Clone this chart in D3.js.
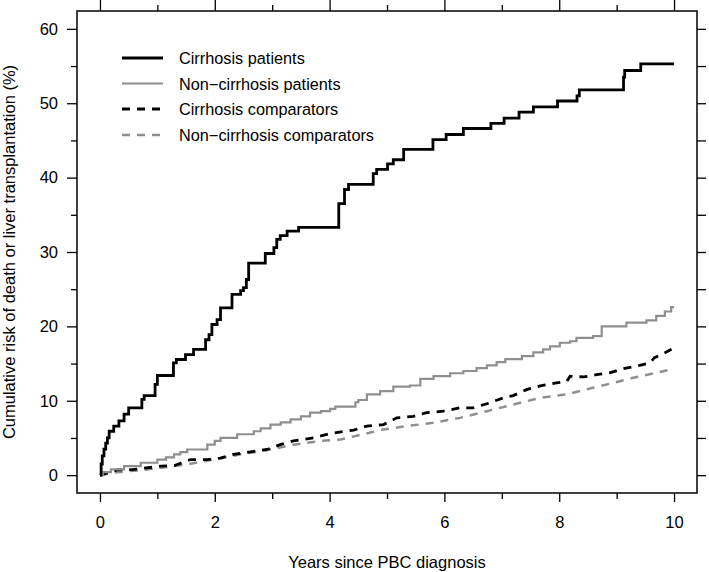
<!DOCTYPE html>
<html>
<head>
<meta charset="utf-8">
<script src="https://cdn.jsdelivr.net/npm/d3@7"></script>
<style>
    body { margin: 0; background: #fff; }
    #chart { width: 709px; height: 572px; }
    text { font-family: "Liberation Sans", Arial, Helvetica, sans-serif; }
    .axis path { display: none; }
    .axis line { stroke: #000; stroke-width: 1.3px; }
    .axis text { font-size: 16.5px; fill: #000; }
</style>
</head>
<body>
<div id="chart"></div>
<script>
// cumulative risk (%), [years, value]
const cirrhosisPatients = [[0,0],[0.02,1.5],[0.04,2.6],[0.07,3.5],[0.1,4.3],[0.13,5.0],[0.16,5.9],[0.24,6.6],
    [0.33,7.3],[0.42,8.2],[0.5,9.05],[0.73,10.2],[0.77,10.7],[0.96,12.2],[1.0,13.4],[1.28,15.1],[1.33,15.55],
    [1.49,16.2],[1.63,16.9],[1.84,18.2],[1.9,18.9],[1.95,20.25],[2.04,20.9],[2.1,22.5],[2.3,24.3],[2.45,24.8],
    [2.5,25.2],[2.55,26.3],[2.59,28.5],[2.88,29.8],[3.03,30.6],[3.08,31.7],[3.14,32.2],[3.26,32.8],[3.46,33.3],
    [4.16,36.5],[4.26,38.4],[4.33,39.1],[4.76,40.55],[4.82,41.1],[5.01,41.85],[5.11,42.4],[5.29,43.8],[5.8,45.1],
    [6.03,45.8],[6.33,46.6],[6.81,47.3],[7.04,48.0],[7.3,48.8],[7.55,49.5],[7.97,50.3],[8.31,51.0],[8.35,51.8],
    [9.12,53.5],[9.14,54.4],[9.42,55.3],[10,55.3]];

const nonCirrhosisPatients = [[0,0],[0.05,0.4],[0.19,0.77],[0.42,1.2],[0.71,1.67],[1.0,2.1],[1.15,2.4],[1.29,2.8],
    [1.4,3.1],[1.52,3.45],[1.87,4.1],[2.0,4.6],[2.1,5.0],[2.39,5.5],[2.68,5.9],[2.8,6.3],[2.97,6.8],[3.15,7.1],
    [3.32,7.5],[3.5,7.9],[3.66,8.4],[3.85,8.6],[4.01,8.9],[4.1,9.2],[4.45,9.8],[4.5,10.1],[4.65,10.85],[4.88,11.3],
    [5.11,11.9],[5.4,12.05],[5.58,12.95],[5.81,13.3],[6.1,13.7],[6.33,14.0],[6.56,14.4],[6.74,14.75],[6.91,15.2],
    [7.06,15.6],[7.35,16.0],[7.55,16.5],[7.72,16.9],[7.84,17.3],[8.01,17.8],[8.19,18.0],[8.3,18.45],[8.59,18.7],
    [8.74,20.0],[9.17,20.5],[9.52,20.8],[9.69,21.4],[9.84,22.0],[9.95,22.6],[10,22.6]];

const cirrhosisComparators = [[0,0],[0.3,0.7],[0.59,0.77],[1.06,1.2],[1.3,1.3],[1.58,2.1],[1.87,2.1],[2.1,2.3],
    [2.33,2.8],[2.68,3.2],[2.91,3.45],[3.14,4.1],[3.37,4.6],[3.72,5.0],[4.01,5.6],[4.42,6.05],[4.65,6.6],[4.94,6.8],
    [5.17,7.7],[5.46,7.9],[5.69,8.4],[5.98,8.6],[6.27,9.05],[6.5,9.05],[6.74,9.6],[7.03,10.4],[7.2,10.7],[7.43,11.5],
    [7.67,12.0],[7.95,12.4],[8.13,12.6],[8.19,13.3],[8.42,13.2],[8.65,13.5],[8.88,13.75],[9.11,14.3],[9.4,14.75],
    [9.58,15.1],[9.66,15.8],[9.84,16.45],[10,17.1]];

const nonCirrhosisComparators = [[0,0],[0.3,0.4],[0.71,0.67],[1.06,1.0],[1.52,1.44],[1.98,2.1],[2.45,2.8],[2.91,3.36],
    [3.37,4.1],[3.84,4.6],[4.19,4.8],[4.53,5.4],[4.94,6.15],[5.35,6.6],[5.81,7.04],[6.27,7.7],[6.74,8.6],[7.2,9.5],
    [7.67,10.4],[8.13,10.85],[8.59,11.75],[8.94,12.4],[9.29,13.1],[9.69,13.75],[10,14.3]];

const seriesNames = ["Cirrhosis patients", "Non\u2212cirrhosis patients", "Cirrhosis comparators", "Non\u2212cirrhosis comparators"];
const xTicks = [0, 1, 2, 3, 4, 5, 6, 7, 8, 9, 10];
const yTicks = [0, 5, 10, 15, 20, 25, 30, 35, 40, 45, 50, 55, 60];

const styles = [
    { color: "#000", width: 2.8, dash: null, step: true },
    { color: "#8f8f8f", width: 2.2, dash: null, step: true },
    { color: "#000", width: 2.8, dash: "8,7", step: false },
    { color: "#8f8f8f", width: 2.5, dash: "8,7", step: false }
];

let svg = d3.select("#chart").append("svg")
    .attr("width", 709)
    .attr("height", 572);

let box = { left: 77, right: 697, top: 11, bottom: 493 };

let x = d3.scaleLinear().domain([-0.4, 10.4]).range([box.left, box.right]);
let y = d3.scaleLinear().domain([-2.4, 62.4]).range([box.bottom, box.top]);

// ticks: labelled ones are longer, as in the original lattice plot
let major = xTicks.filter(d => d % 2 === 0), minor = xTicks.filter(d => d % 2 !== 0);
let yMajor = yTicks.filter(d => d % 10 === 0), yMinor = yTicks.filter(d => d % 10 !== 0);

svg.append("g").attr("class", "axis")
    .attr("transform", `translate(0,${box.bottom})`)
    .call(d3.axisBottom(x).tickValues(major).tickSize(9).tickPadding(14).tickFormat(d3.format("d")));
svg.append("g").attr("class", "axis")
    .attr("transform", `translate(0,${box.bottom})`)
    .call(d3.axisBottom(x).tickValues(minor).tickSize(6).tickFormat(""));
svg.append("g").attr("class", "axis")
    .attr("transform", `translate(0,${box.top})`)
    .call(d3.axisTop(x).tickValues(major).tickSize(11).tickFormat(""));
svg.append("g").attr("class", "axis")
    .attr("transform", `translate(0,${box.top})`)
    .call(d3.axisTop(x).tickValues(minor).tickSize(6).tickFormat(""));

svg.append("g").attr("class", "axis")
    .attr("transform", `translate(${box.left},0)`)
    .call(d3.axisLeft(y).tickValues(yMajor).tickSize(10).tickPadding(9).tickFormat(d3.format("d")));
svg.append("g").attr("class", "axis")
    .attr("transform", `translate(${box.left},0)`)
    .call(d3.axisLeft(y).tickValues(yMinor).tickSize(6).tickFormat(""));
svg.append("g").attr("class", "axis")
    .attr("transform", `translate(${box.right},0)`)
    .call(d3.axisRight(y).tickValues(yTicks).tickSize(9).tickFormat(""));

// plot frame
svg.append("rect")
    .attr("x", box.left)
    .attr("y", box.top)
    .attr("width", box.right - box.left)
    .attr("height", box.bottom - box.top)
    .attr("fill", "none")
    .attr("stroke", "#000")
    .attr("stroke-width", 1.5);

// curves
let allSeries = [cirrhosisPatients, nonCirrhosisPatients, cirrhosisComparators, nonCirrhosisComparators];

// draw order: comparators under patients
[3, 2, 1, 0].forEach(i => {
    let st = styles[i];
    let line = d3.line()
        .x(d => x(d[0]))
        .y(d => y(d[1]))
        .curve(st.step ? d3.curveStepAfter : d3.curveLinear);
    svg.append("path")
        .datum(allSeries[i])
        .attr("fill", "none")
        .attr("stroke", st.color)
        .attr("stroke-width", st.width)
        .attr("stroke-dasharray", st.dash)
        .attr("stroke-linejoin", "miter")
        .attr("d", line);
});

// legend
let legend = svg.append("g").attr("class", "legend");
let rowY = [58, 83.5, 109, 135];

seriesNames.forEach((name, i) => {
    let st = styles[i];
    legend.append("line")
        .attr("x1", 122).attr("x2", 163)
        .attr("y1", rowY[i]).attr("y2", rowY[i])
        .attr("stroke", st.color)
        .attr("stroke-width", st.width)
        .attr("stroke-dasharray", st.dash);
    legend.append("text")
        .attr("x", 179)
        .attr("y", rowY[i] + 6)
        .style("font-size", "16.3px")
        .text(name);
});

// axis titles
svg.append("text")
    .attr("text-anchor", "middle")
    .attr("x", (box.left + box.right) / 2)
    .attr("y", 568)
    .style("font-size", "16.5px")
    .text("Years since PBC diagnosis");

svg.append("text")
    .attr("text-anchor", "middle")
    .attr("transform", `translate(15,${(box.top + box.bottom) / 2}) rotate(-90)`)
    .style("font-size", "16.5px")
    .text("Cumulative risk of death or liver transplantation (%)");
</script>
</body>
</html>
